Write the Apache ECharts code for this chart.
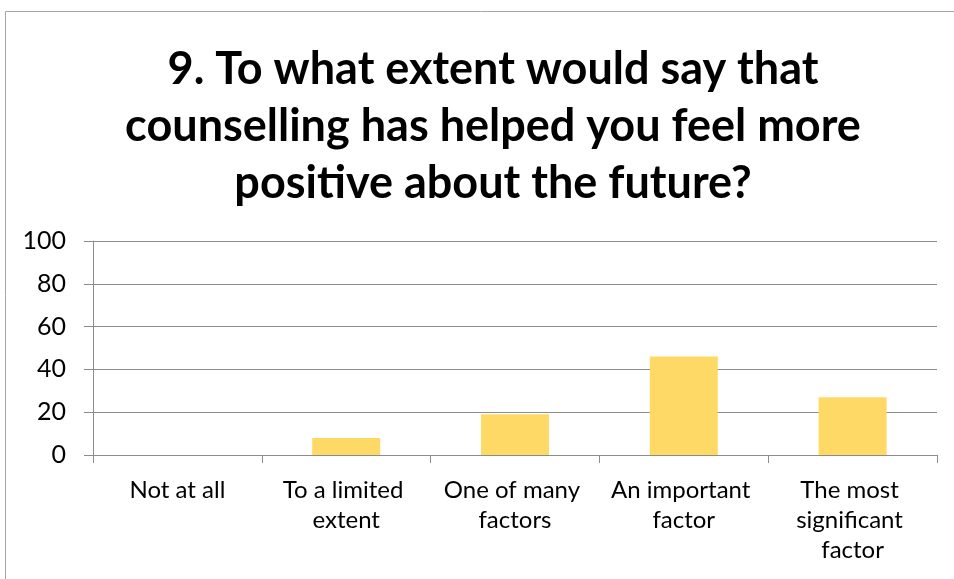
<!DOCTYPE html>
<html>
<head>
<meta charset="utf-8">
<style>
  html, body { margin: 0; padding: 0; background: #ffffff; }
  #chart { width: 954px; height: 579px; }
</style>
<script src="https://cdn.jsdelivr.net/npm/echarts@6/dist/echarts.min.js"></script>
</head>
<body>
<div id="chart"></div>
<script>
// Survey question 9: how much counselling helped respondents feel positive about the future
const titleText = '9. To what extent would say that\ncounselling has helped you feel more\npositive about the future?';
const categories = ['Not at all', 'To a limited extent', 'One of many factors', 'An important factor', 'The most significant factor'];
const responses = [0, 8, 19, 46, 27];
const yTicks = { min: 0, max: 100, interval: 20 };

const FONT = 'Lato, "Open Sans", sans-serif';
const chart = echarts.init(document.getElementById('chart'), null, { renderer: 'canvas' });

chart.setOption({
  animation: false,
  backgroundColor: '#ffffff',
  graphic: [{
    type: 'rect',
    shape: { x: 5.5, y: 11.5, width: 2000, height: 2000 },
    style: { fill: 'none', stroke: '#A6A6A6', lineWidth: 1 },
    silent: true
  }],
  title: {
    text: titleText,
    left: 488,
    textAlign: 'center',
    top: 36,
    textStyle: {
      fontFamily: FONT,
      fontWeight: 'bold',
      fontSize: 45,
      lineHeight: 57,
      color: '#000000'
    }
  },
  grid: { left: 93, right: 17, top: 241, bottom: 124 },
  xAxis: {
    type: 'category',
    data: categories,
    axisLine: { lineStyle: { color: '#8C8C8C', width: 1 } },
    axisTick: { show: true, length: 8, alignWithLabel: false, lineStyle: { color: '#8C8C8C' } },
    axisLabel: {
      interval: 0,
      margin: 20,
      fontFamily: FONT,
      fontSize: 24,
      lineHeight: 30,
      color: '#000000',
      width: 152,
      overflow: 'break',
      align: 'center'
    }
  },
  yAxis: {
    type: 'value',
    min: yTicks.min,
    max: yTicks.max,
    interval: yTicks.interval,
    axisLine: { show: true, lineStyle: { color: '#8C8C8C', width: 1 } },
    axisTick: { show: true, length: 9, lineStyle: { color: '#8C8C8C' } },
    splitLine: { show: true, lineStyle: { color: '#8C8C8C', width: 1 } },
    axisLabel: {
      margin: 27,
      fontFamily: FONT,
      fontSize: 25,
      color: '#000000'
    }
  },
  series: [{
    type: 'bar',
    data: responses,
    barWidth: 68,
    itemStyle: { color: '#FFD966' }
  }]
});
</script>
</body>
</html>
